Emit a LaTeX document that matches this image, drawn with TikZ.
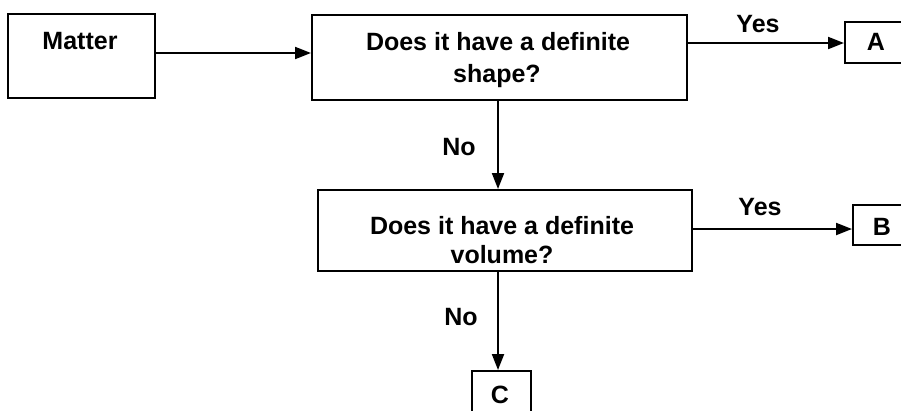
\documentclass[tikz,border=0pt]{standalone}
\usepackage{fontspec}
\setmainfont{Liberation Sans}
\usetikzlibrary{arrows.meta}
\begin{document}
\begin{tikzpicture}[x=1pt,y=-1pt,
  box/.style={draw, line width=2pt, rectangle, inner sep=0pt},
  txt/.style={font=\fontsize{25}{30}\selectfont\bfseries, inner sep=0pt},
  arr/.style={line width=2pt, -{Triangle[length=16pt,width=12pt]}}]
  \useasboundingbox (0,0) rectangle (901,410);

  % boxes
  \node[box, minimum width=147pt, minimum height=84pt] (matter) at (81.5,56) {};
  \node[box, minimum width=375pt, minimum height=85pt] (q1) at (499.5,57.5) {};
  \node[box, minimum width=62pt, minimum height=41pt] (a) at (876,42.5) {};
  \node[box, minimum width=374pt, minimum height=81pt] (q2) at (505,230.5) {};
  \node[box, minimum width=58pt, minimum height=40pt] (b) at (882,225) {};
  \node[box, minimum width=59pt, minimum height=42pt] (c) at (501.5,392) {};

  % box texts
  \node[txt] (tmatter) at (80,41) {Matter};
  \node[txt, anchor=base] (tq1a) at (498,50) {Does it have a definite};
  \node[txt, anchor=base] (tq1b) at (497,82) {shape?};
  \node[txt, anchor=base] (tq2a) at (502,234) {Does it have a definite};
  \node[txt, anchor=base] (tq2b) at (502,263) {volume?};
  \node[txt, anchor=base] (ta) at (876,50) {A};
  \node[txt, anchor=base] (tb) at (882,235) {B};
  \node[txt, anchor=base] (tc) at (500,403) {C};

  % connector labels
  \node[txt, anchor=base] (yes1) at (758,32) {Yes};
  \node[txt, anchor=base] (yes2) at (760,215) {Yes};
  \node[txt, anchor=base] (no1) at (459,155) {No};
  \node[txt, anchor=base] (no2) at (461,325) {No};

  % connectors
  \draw[arr] (matter.east |- 0,53) -- (q1.west |- 0,53);
  \draw[arr] (q1.east |- 0,43) -- (a.west |- 0,43);
  \draw[arr] (q1.south -| 498,0) -- (q2.north -| 498,0);
  \draw[arr] (q2.east |- 0,229) -- (b.west |- 0,229);
  \draw[arr] (q2.south -| 498,0) -- (c.north -| 498,0);
\end{tikzpicture}
\end{document}
